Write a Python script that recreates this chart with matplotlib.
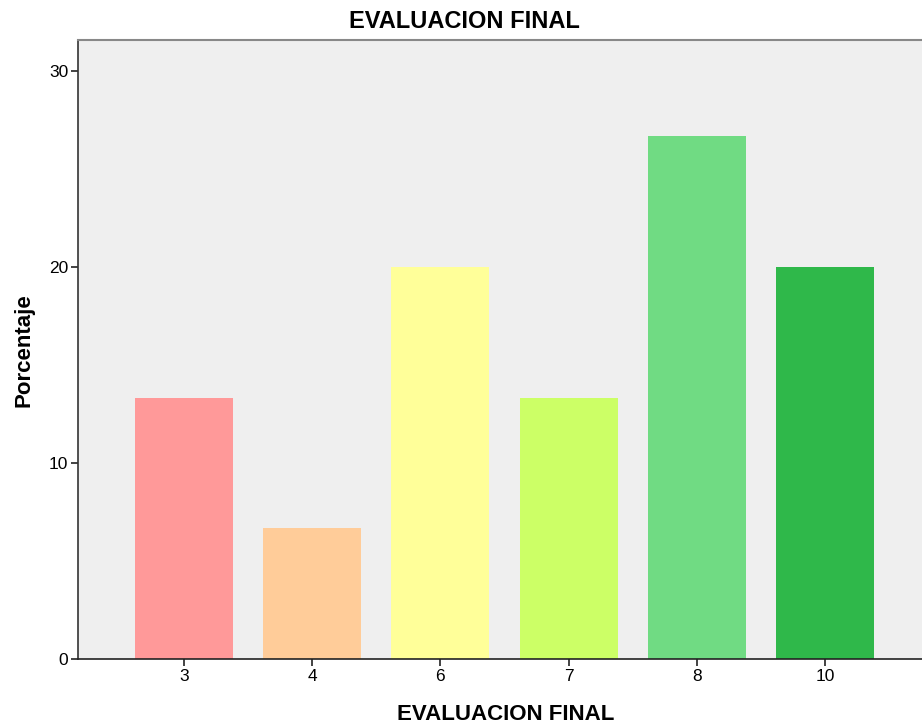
import matplotlib
matplotlib.use("Agg")
import matplotlib.pyplot as plt

categories = ["3", "4", "6", "7", "8", "10"]
percentages = [13.33, 6.67, 20.0, 13.33, 26.67, 20.0]
colors = ["#ff9999", "#ffcc99", "#ffff99", "#ccff66", "#70db83", "#2fb84a"]
yticks = [0, 10, 20, 30]

plt.rcParams['font.family'] = ['Liberation Sans', 'DejaVu Sans']

fig = plt.figure(figsize=(9.22, 7.28), dpi=100)
ax = fig.add_axes([78/922, 69/728, 1 - 78/922, 619/728])
ax.set_facecolor("#efefef")
x = list(range(len(categories)))
ax.bar(x, percentages, width=0.765, color=colors, edgecolor="none")
ax.set_xlim(-0.827, 5.757)
ax.set_ylim(0, 31.58)
ax.set_xticks(x)
ax.set_xticklabels(categories, fontsize=12.5)
ax.set_yticks(yticks)
ax.set_yticklabels([str(t) for t in yticks], fontsize=12.5)
ax.tick_params(length=5, width=1.2, color="#222222", pad=2)
ax.spines['left'].set_color("#333333")
ax.spines['bottom'].set_color("#222222")
ax.spines['left'].set_linewidth(1.2)
ax.spines['bottom'].set_linewidth(1.2)
ax.spines['top'].set_color("#888888")
ax.spines['top'].set_linewidth(1.5)
ax.spines['right'].set_visible(False)

fig.text(464/922, 1 - 21/728, "EVALUACION FINAL", ha="center", va="center",
         fontsize=17, fontweight="bold")
fig.text(506/922, 1 - 715/728, "EVALUACION FINAL", ha="center", va="center",
         fontsize=16, fontweight="bold")
fig.text(24/922, 1 - 350/728, "Porcentaje", ha="center", va="center",
         fontsize=16, fontweight="bold", rotation=90)

fig.savefig("out.png", dpi=100)
